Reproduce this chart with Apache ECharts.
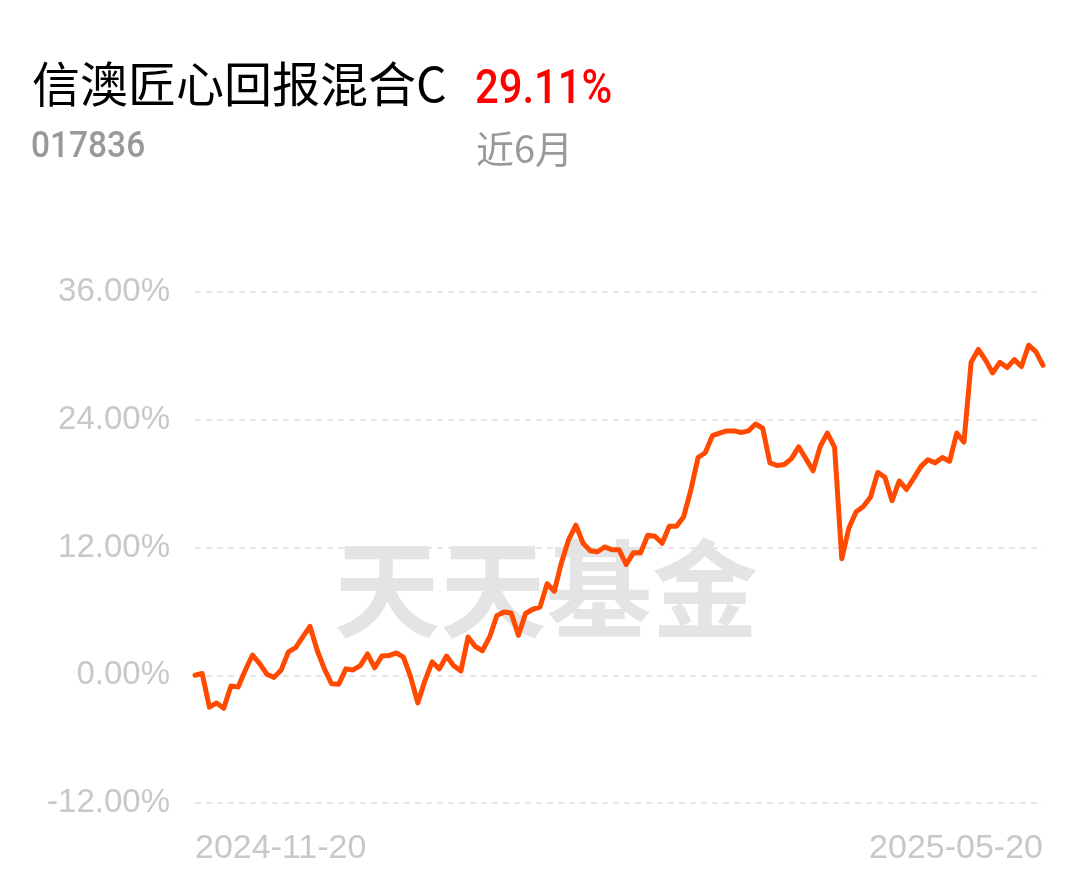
<!DOCTYPE html>
<html>
<head>
<meta charset="utf-8">
<script src="https://cdn.jsdelivr.net/npm/echarts@6/dist/echarts.min.js"></script>
<style>
html,body{margin:0;padding:0;background:#fff;}
#main{width:1089px;height:881px;}
</style>
</head>
<body>
<div id="main"></div>
<script>
var fundName = '信澳匠心回报混合C';
var fundCode = '017836';
var periodReturn = '29.11%';
var periodLabel = '近6月';
var watermark = '天天基金';

var dates = [
'2024-11-20','2024-11-21','2024-11-22','2024-11-25','2024-11-26','2024-11-27','2024-11-28','2024-11-29',
'2024-12-02','2024-12-03','2024-12-04','2024-12-05','2024-12-06','2024-12-09','2024-12-10','2024-12-11','2024-12-12','2024-12-13',
'2024-12-16','2024-12-17','2024-12-18','2024-12-19','2024-12-20','2024-12-23','2024-12-24','2024-12-25','2024-12-26','2024-12-27',
'2024-12-30','2024-12-31',
'2025-01-02','2025-01-03','2025-01-06','2025-01-07','2025-01-08','2025-01-09','2025-01-10','2025-01-13','2025-01-14','2025-01-15',
'2025-01-16','2025-01-17','2025-01-20','2025-01-21','2025-01-22','2025-01-23','2025-01-24','2025-01-27',
'2025-02-05','2025-02-06','2025-02-07','2025-02-10','2025-02-11','2025-02-12','2025-02-13','2025-02-14','2025-02-17','2025-02-18',
'2025-02-19','2025-02-20','2025-02-21','2025-02-24','2025-02-25','2025-02-26','2025-02-27','2025-02-28',
'2025-03-03','2025-03-04','2025-03-05','2025-03-06','2025-03-07','2025-03-10','2025-03-11','2025-03-12','2025-03-13','2025-03-14',
'2025-03-17','2025-03-18','2025-03-19','2025-03-20','2025-03-21','2025-03-24','2025-03-25','2025-03-26','2025-03-27','2025-03-28',
'2025-03-31',
'2025-04-01','2025-04-02','2025-04-03','2025-04-07','2025-04-08','2025-04-09','2025-04-10','2025-04-11','2025-04-14','2025-04-15',
'2025-04-16','2025-04-17','2025-04-18','2025-04-21','2025-04-22','2025-04-23','2025-04-24','2025-04-25','2025-04-28','2025-04-29',
'2025-04-30',
'2025-05-06','2025-05-07','2025-05-08','2025-05-09','2025-05-12','2025-05-13','2025-05-14','2025-05-15','2025-05-16','2025-05-19',
'2025-05-20'
];

var returns = [
0, 0.16, -3.0, -2.6, -3.1, -1.0, -1.1, 0.47, 1.9, 1.1,
0.1, -0.2, 0.5, 2.2, 2.6, 3.6, 4.6, 2.35, 0.6, -0.8,
-0.85, 0.6, 0.5, 0.9, 2.0, 0.7, 1.8, 1.85, 2.1, 1.7,
-0.15, -2.6, -0.5, 1.25, 0.6, 1.8, 0.9, 0.4, 3.6, 2.7,
2.3, 3.6, 5.6, 5.95, 5.85, 3.75, 5.8, 6.2, 6.4, 8.6,
7.9, 10.6, 12.75, 14.1, 12.4, 11.7, 11.6, 12.05, 11.8, 11.8,
10.4, 11.5, 11.5, 13.15, 13.05, 12.4, 14.0, 14.0, 14.9, 17.4,
20.45, 20.9, 22.5, 22.75, 22.95, 22.95, 22.8, 22.95, 23.6, 23.2,
19.95, 19.7, 19.8, 20.35, 21.45, 20.35, 19.2, 21.5, 22.75, 21.4,
10.95, 13.85, 15.35, 15.85, 16.75, 19.05, 18.6, 16.4, 18.25, 17.45,
18.5, 19.6, 20.25, 19.95, 20.45, 20.1, 22.75, 21.9, 29.4, 30.6,
29.6, 28.4, 29.4, 28.9, 29.65, 29.0, 31.0, 30.4, 29.11
];

var yMin = -12, yMax = 36, yStep = 12;

var chart = echarts.init(document.getElementById('main'), null, {renderer:'canvas'});
var last = dates.length - 1;

chart.setOption({
  animation: false,
  backgroundColor: '#ffffff',
  graphic: [
    {type:'text', x:32, y:60, z:10,
     style:{text:fundName, fill:'#000000', font:'48px "Noto Sans CJK SC", sans-serif'}},
    {type:'text', x:475, y:67, z:10, scaleX:0.87,
     style:{text:periodReturn, fill:'#ff0000', font:'500 48px Roboto, sans-serif'}},
    {type:'text', x:31, y:130, z:10, scaleX:0.93,
     style:{text:fundCode, fill:'#999999', font:'500 36px Roboto, sans-serif'}},
    {type:'text', x:476, y:130, z:10,
     style:{text:periodLabel, fill:'#999999', font:'38px "Noto Sans CJK SC", sans-serif'}},
    {type:'text', x:334, y:536, z:0, silent:true,
     style:{text:watermark, fill:'#e4e4e4', font:'bold 106px "Noto Sans CJK SC", sans-serif'}}
  ],
  grid: {left:195, right:46, top:292, bottom:78, containLabel:false},
  xAxis: {
    type:'category',
    data: dates,
    boundaryGap:false,
    axisLine:{show:false},
    axisTick:{show:false},
    splitLine:{show:false},
    axisLabel:{
      interval: function(i){ return i === 0 || i === last; },
      color:'#c8c8c8',
      fontSize:34,
      fontFamily:'"Liberation Sans", Arial, sans-serif',
      margin:29,
      alignMinLabel:'left',
      alignMaxLabel:'right',
      showMinLabel:true,
      showMaxLabel:true,
      hideOverlap:false
    }
  },
  yAxis: {
    type:'value',
    min:yMin, max:yMax, interval:yStep,
    axisLine:{show:false},
    axisTick:{show:false},
    axisLabel:{
      formatter:function(v){ return v.toFixed(2) + '%'; },
      color:'#c8c8c8',
      fontSize:33,
      fontFamily:'"Liberation Sans", Arial, sans-serif',
      margin:25
    },
    splitLine:{show:true, lineStyle:{color:'#e6e6e6', width:2, type:[6,5]}}
  },
  series: [{
    type:'line',
    data: returns,
    showSymbol:false,
    symbol:'none',
    z:5,
    lineStyle:{color:'#ff4a00', width:5, join:'round', cap:'round'},
    itemStyle:{color:'#ff4a00'}
  }]
});
</script>
</body>
</html>
